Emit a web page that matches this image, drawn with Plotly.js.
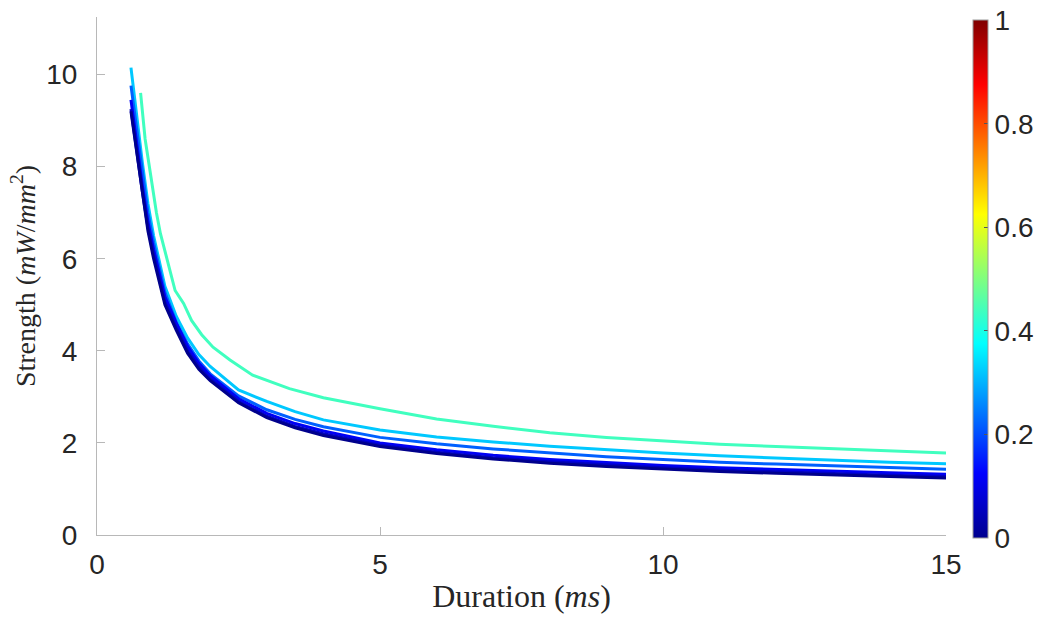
<!DOCTYPE html>
<html>
<head>
<meta charset="utf-8">
<script src="https://cdn.plot.ly/plotly-3.0.1.min.js"></script>
<style>html,body{margin:0;padding:0;background:#fff;}#chart{width:1047px;height:620px;}</style>
</head>
<body>
<div id="chart"></div>
<script>
// Durations (ms) for the five curves starting at ~0.6 ms
const durations = [0.6,0.7,0.8,0.9,1.0,1.2,1.4,1.6,1.8,2.0,2.5,3,3.5,4,5,6,7,8,9,10,11,12,13,14,15];
// Durations for the aquamarine curve (starts later)
const durationsA = [0.77,0.85,0.95,1.05,1.12,1.25,1.38,1.53,1.67,1.85,2.05,2.35,2.75,3.4,4,5,6,7,8,9,10,11,12,13,14,15];

// Strength values (mW/mm^2)
const strengthA = [9.6,8.6,7.8,7.0,6.55,5.95,5.31,5.03,4.66,4.35,4.08,3.80,3.47,3.18,2.98,2.74,2.52,2.36,2.22,2.12,2.04,1.97,1.92,1.87,1.82,1.78];
const strengthB = [10.15,9.1,8.1,7.2,6.5,5.4,4.75,4.28,3.92,3.66,3.15,2.9,2.68,2.5,2.28,2.13,2.02,1.93,1.85,1.78,1.72,1.67,1.62,1.58,1.55];
const strengthC = [9.76,8.8,7.85,7.0,6.35,5.27,4.62,4.15,3.78,3.5,3.02,2.72,2.51,2.35,2.12,1.98,1.87,1.78,1.70,1.64,1.58,1.54,1.50,1.46,1.43];
const strengthD = [9.45,8.5,7.6,6.8,6.2,5.17,4.6,4.1,3.73,3.46,2.96,2.64,2.42,2.26,2.0,1.85,1.73,1.64,1.57,1.51,1.46,1.42,1.38,1.35,1.32];
const strengthE = [9.25,8.35,7.47,6.68,6.08,5.06,4.5,4.0,3.65,3.39,2.9,2.58,2.36,2.2,1.95,1.80,1.68,1.59,1.52,1.46,1.41,1.37,1.33,1.30,1.27];
const strengthF = [9.2,8.3,7.4,6.6,6.0,5.0,4.45,3.95,3.6,3.35,2.87,2.55,2.33,2.16,1.92,1.77,1.65,1.56,1.49,1.43,1.38,1.34,1.30,1.27,1.24];

// Colours of the curves (jet colormap levels ~0.44, 0.32, 0.22, 0.12, 0.07, 0.02)
const curveColors = ['rgb(64,255,191)','rgb(0,200,255)','rgb(0,96,255)','rgb(0,0,245)','rgb(0,0,195)','rgb(0,0,140)'];

const colorbarTicks = [0,0.2,0.4,0.6,0.8,1];
const xTicks = [0,5,10,15];
const yTicks = [0,2,4,6,8,10];

const jet = [[0,'rgb(0,0,143)'],[0.125,'rgb(0,0,255)'],[0.375,'rgb(0,255,255)'],[0.625,'rgb(255,255,0)'],[0.875,'rgb(255,0,0)'],[1,'rgb(128,0,0)']];

const seriesX = [durationsA, durations, durations, durations, durations, durations];
const seriesY = [strengthA, strengthB, strengthC, strengthD, strengthE, strengthF];

const traces = seriesY.map((ys, i) => ({
  type: 'scatter', mode: 'lines', x: seriesX[i], y: ys,
  line: {color: curveColors[i], width: 3}, hoverinfo: 'skip', showlegend: false
}));

const tickFont = {family: 'Liberation Sans, Arial, sans-serif', size: 28, color: '#262626'};

// dummy trace carrying the colorbar
traces.push({
  type: 'scatter', mode: 'markers', x: [-10], y: [-10], showlegend: false, hoverinfo: 'skip',
  marker: {color: [0], cmin: 0, cmax: 1, colorscale: jet, showscale: true, size: 1,
    colorbar: {x: 1.0318, xanchor: 'left', xpad: 0, y: 0.494, yanchor: 'middle', ypad: 0,
      len: 1, lenmode: 'fraction', thickness: 15, thicknessmode: 'pixels',
      outlinewidth: 1, outlinecolor: '#9a9a9a',
      tickmode: 'array', tickvals: colorbarTicks, ticktext: colorbarTicks.map(String),
      ticks: 'inside', ticklen: 4, tickcolor: '#555',
      tickfont: tickFont}}
});

const layout = {
  width: 1047, height: 620,
  margin: {l: 97, r: 101, t: 17, b: 85, pad: 0, autoexpand: false},
  paper_bgcolor: '#fff', plot_bgcolor: '#fff',
  showlegend: false,
  xaxis: {range: [0, 15], tickmode: 'array', tickvals: xTicks, ticktext: xTicks.map(String),
    showgrid: false, zeroline: false, showline: true, linecolor: '#b8b8b8', linewidth: 1,
    ticks: 'inside', ticklen: 8, tickcolor: '#b8b8b8', ticklabelstandoff: 4,
    tickfont: tickFont, automargin: false,
    title: {text: 'Duration (<i>ms</i>)', standoff: 6,
      font: {family: 'Liberation Serif, DejaVu Serif, serif', size: 32, color: '#262626'}}},
  yaxis: {range: [0, 11.25], tickmode: 'array', tickvals: yTicks, ticktext: yTicks.map(String),
    showgrid: false, zeroline: false, showline: true, linecolor: '#b8b8b8', linewidth: 1,
    ticks: 'inside', ticklen: 8, tickcolor: '#b8b8b8', ticklabelstandoff: 13,
    tickfont: tickFont, automargin: false,
    title: {text: 'Strength (<i>mW</i>/<i>mm</i><sup>2</sup>)', standoff: 2,
      font: {family: 'Liberation Serif, DejaVu Serif, serif', size: 28, color: '#262626'}}}
};

Plotly.newPlot('chart', traces, layout, {displayModeBar: false, staticPlot: true});
</script>
</body>
</html>
